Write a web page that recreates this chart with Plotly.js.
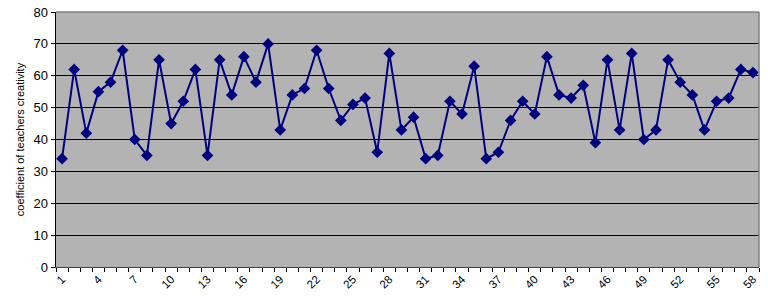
<!DOCTYPE html>
<html>
<head>
<meta charset="utf-8">
<script src="https://cdn.plot.ly/plotly-3.0.1.min.js"></script>
<style>html,body{margin:0;padding:0;background:#fff;}#chart{width:768px;height:302px;}</style>
</head>
<body>
<div id="chart"></div>
<script>
const teachers = Array.from({length: 58}, (_, i) => i + 1);
const creativity = [34,62,42,55,58,68,40,35,65,45,52,62,35,65,54,66,58,70,43,54,56,68,56,46,51,53,36,67,43,47,34,35,52,48,63,34,36,46,52,48,66,54,53,57,39,65,43,67,40,43,65,58,54,43,52,53,62,61];
const xTickVals = [1,4,7,10,13,16,19,22,25,28,31,34,37,40,43,46,49,52,55,58];
const yTitle = 'coefficient of teachers creativity';

const trace = {
  x: teachers, y: creativity, type: 'scatter', mode: 'lines+markers',
  line: {color: '#000080', width: 2},
  marker: {symbol: 'diamond', size: 9, color: '#000080'},
  hoverinfo: 'x+y'
};

const layout = {
  width: 768, height: 302,
  margin: {l: 56, r: 9, t: 12, b: 35},
  paper_bgcolor: '#ffffff', plot_bgcolor: '#b3b3b3',
  showlegend: false,
  font: {family: 'Liberation Sans, Arial, sans-serif', color: '#000'},
  xaxis: {
    range: [0.5, 58.5], tickmode: 'array', tickvals: xTickVals, ticktext: xTickVals.map(String),
    ticks: '', tickangle: -45, tickfont: {size: 11.5},
    showgrid: false, zeroline: false, showline: true, linecolor: '#404040', linewidth: 1,
    minor: {tickmode: 'linear', tick0: 0.5, dtick: 1, ticks: 'outside', ticklen: 4, tickcolor: '#000', tickwidth: 1, showgrid: false}
  },
  yaxis: {
    range: [0, 80], dtick: 10, tick0: 0, ticks: 'outside', ticklen: 4, tickcolor: '#000',
    tickfont: {size: 13}, showgrid: true, gridcolor: '#000', gridwidth: 1,
    zeroline: false, showline: true, linecolor: '#000', linewidth: 1.5,
    title: {text: yTitle, font: {size: 11}, standoff: 6}
  },
  shapes: [
    {type: 'line', xref: 'paper', yref: 'paper', x0: 0, x1: 1, y0: 1, y1: 1, line: {color: '#808080', width: 1.5}},
    {type: 'line', xref: 'paper', yref: 'paper', x0: 1, x1: 1, y0: 0, y1: 1, line: {color: '#808080', width: 1.5}}
  ]
};

Plotly.newPlot('chart', [trace], layout, {displayModeBar: false, staticPlot: true});
</script>
</body>
</html>
